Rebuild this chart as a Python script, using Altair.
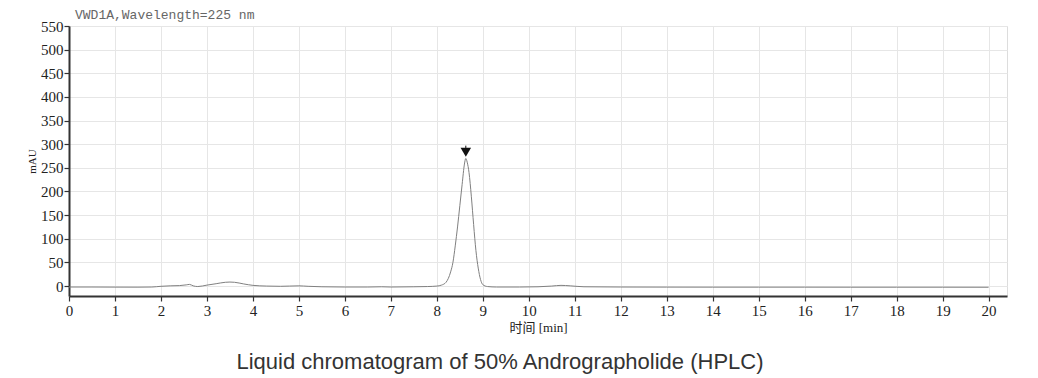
import altair as alt
import pandas as pd

# Chromatogram trace (retention time in min, absorbance in mAU)
times = [0.0, 0.5, 1.0, 1.5, 1.8, 2.0, 2.2, 2.4, 2.55, 2.62, 2.7, 2.8, 3.0, 3.2, 3.4, 3.5,
         3.6, 3.8, 4.0, 4.3, 4.6, 4.8, 5.0, 5.2, 5.5, 6.0, 6.5, 6.8, 7.0, 7.5, 7.8, 8.0,
         8.1, 8.2, 8.3, 8.35, 8.4, 8.45, 8.5, 8.55, 8.6, 8.63, 8.66, 8.7, 8.75, 8.8, 8.85,
         8.9, 8.95, 9.0, 9.1, 9.3, 9.8, 10.2, 10.5, 10.7, 10.9, 11.2, 12.0, 13.0, 14.0,
         15.0, 16.0, 17.0, 18.0, 19.0, 20.0]
signal = [-2.0, -2.0, -2.2, -2.3, -2.0, -0.5, 0.5, 1.0, 2.5, 3.5, 0.5, -1.0, 2.0, 5.0, 8.0, 8.5,
          8.0, 4.5, 1.5, 0.0, -0.5, 0.0, 0.5, -0.5, -1.5, -2.0, -2.0, -1.5, -2.0, -1.5, -1.0, 0.0,
          2.0, 8.0, 30.0, 50.0, 85.0, 125.0, 170.0, 215.0, 258.0, 270.0, 262.0, 240.0, 190.0, 130.0, 75.0,
          38.0, 14.0, 3.0, -1.0, -2.0, -2.0, -1.5, 0.0, 1.5, 0.5, -1.5, -2.0, -2.2, -2.3,
          -2.3, -2.3, -2.4, -2.4, -2.4, -2.5]

# Peak marker
peak_time = [8.63]
marker_value = [283.0]
stem_top = [297.0]

x_ticks = list(range(0, 21))
y_ticks = list(range(0, 551, 50))

title_text = "VWD1A,Wavelength=225 nm"
x_title = "时间 [min]"
y_title = "mAU"
caption = ["Liquid chromatogram of 50% Andrographolide (HPLC)"]

trace = pd.DataFrame({"t": times, "v": signal})
peak = pd.DataFrame({"t": peak_time, "v": marker_value, "top": stem_top})
cap = pd.DataFrame({"c": caption})

serif = "'Liberation Serif', 'Noto Sans CJK SC', serif"

x_scale = alt.Scale(domain=[0, 20.4], nice=False, zero=False)
y_scale = alt.Scale(domain=[-21, 550], nice=False, zero=False)

x_axis = alt.Axis(values=x_ticks, format="d", title=x_title, labelFont=serif, labelFontSize=15,
                  labelColor="#222", titleFont=serif, titleFontSize=13, titleFontWeight="normal",
                  titleColor="#222", domainColor="#333", domainWidth=2, tickColor="#333",
                  tickSize=5, tickWidth=1.2, gridColor="#e6e6e6", gridWidth=1, labelPadding=2,
                  titlePadding=3, labelOverlap=False, labelBound=False, labelFlush=False)
y_axis = alt.Axis(values=y_ticks, format="d", title=y_title, labelFont=serif, labelFontSize=15,
                  labelColor="#222", titleFont=serif, titleFontSize=11, titleFontWeight="normal",
                  titleColor="#222", domainColor="#333", domainWidth=2, tickColor="#333",
                  tickSize=5, tickWidth=1.2, gridColor="#e6e6e6", gridWidth=1, labelPadding=1,
                  titlePadding=3, labelOverlap=False, labelBound=False, labelFlush=False)

X = alt.X("t:Q", scale=x_scale, axis=x_axis)
Y = alt.Y("v:Q", scale=y_scale, axis=y_axis)

line = alt.Chart(trace).mark_line(color="#808080", strokeWidth=1, interpolate="monotone").encode(
    x=X, y=Y,
)

stem = alt.Chart(peak).mark_rule(color="#111", strokeWidth=1).encode(
    x=X, y=Y, y2="top:Q",
)

marker = alt.Chart(peak).mark_point(shape="triangle-down", filled=True, color="#111",
                                    size=110, opacity=1).encode(
    x=X, y=Y,
)

caption_text = alt.Chart(cap).mark_text(font="'Liberation Sans', Arial, sans-serif", fontSize=22,
                                        color="#333", baseline="middle", align="center").encode(
    text="c:N",
    x=alt.value(431),
    y=alt.value(336),
)

chart = alt.layer(line, stem, marker, caption_text).properties(
    width=938,
    height=270,
    padding={"left": 61, "top": 18, "right": 23, "bottom": 82},
    autosize=alt.AutoSizeParams(type="none"),
    title=alt.TitleParams(title_text, anchor="start", frame="group", dx=6, offset=-3,
                          font="'Liberation Mono', monospace", fontSize=13,
                          fontWeight="normal", color="#666"),
).configure_view(stroke="#333", strokeWidth=2).configure(background="white")

chart.save("out.html", embed_options={"renderer": "svg", "actions": False})
